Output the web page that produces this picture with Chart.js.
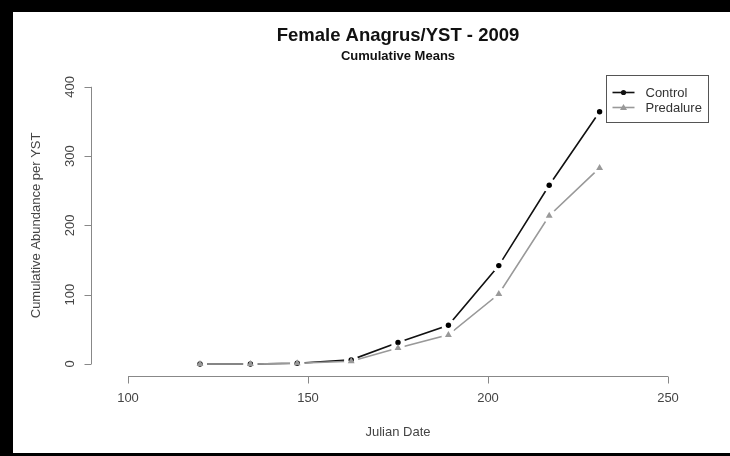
<!DOCTYPE html>
<html>
<head>
<meta charset="utf-8">
<title>Female Anagrus/YST - 2009</title>
<script src="https://cdn.jsdelivr.net/npm/chart.js@4.4.1/dist/chart.umd.min.js"></script>
<style>
  html, body { margin: 0; padding: 0; background: #fff; }
  #frame {
    width: 730px; height: 456px; box-sizing: border-box;
    border-left: 13px solid #000; border-top: 12px solid #000; border-bottom: 3px solid #000;
    background: #fff;
  }
  canvas { display: block; }
</style>
</head>
<body>
<div id="frame"><canvas id="chart" width="717" height="441"></canvas></div>
<script>
(function () {
  'use strict';

  // Data
  var julianDays = [120, 134, 147, 162, 175, 189, 203, 217, 231];
  var controlMeans = [0, 0, 1, 6, 31, 56, 142, 258, 364];
  var predalureMeans = [0, 0, 1, 4, 23, 42, 101, 214, 283];
  var xTicks = [100, 150, 200, 250];
  var yTicks = [0, 100, 200, 300, 400];

  var FONT = '"Liberation Sans", Arial, Helvetica, sans-serif';
  var TEXT = '#444';
  var AXIS = '#888';

  function pts(vals) {
    return julianDays.map(function (d, i) { return { x: d, y: vals[i] }; });
  }

  /** R-style detached axes: drawn off the plot region through the scales */
  var rAxes = {
    id: 'rAxes',
    afterDraw: function (chart) {
      var ctx = chart.ctx, area = chart.chartArea;
      var xs = chart.scales.x, ys = chart.scales.y;
      var ay = Math.round(area.bottom + 12) + 0.5;
      var ax = Math.round(area.left - 37) + 0.5;
      ctx.save();
      ctx.strokeStyle = AXIS;
      ctx.lineWidth = 1;
      ctx.beginPath();
      ctx.moveTo(xs.getPixelForValue(xTicks[0]), ay);
      ctx.lineTo(xs.getPixelForValue(xTicks[xTicks.length - 1]), ay);
      xTicks.forEach(function (v) {
        var px = Math.round(xs.getPixelForValue(v)) + 0.5;
        ctx.moveTo(px, ay);
        ctx.lineTo(px, ay + 7);
      });
      ctx.moveTo(ax, ys.getPixelForValue(yTicks[0]));
      ctx.lineTo(ax, ys.getPixelForValue(yTicks[yTicks.length - 1]));
      yTicks.forEach(function (v) {
        var py = Math.round(ys.getPixelForValue(v)) + 0.5;
        ctx.moveTo(ax, py);
        ctx.lineTo(ax - 7, py);
      });
      ctx.stroke();
      ctx.restore();
    }
  };

  /** Boxed legend in the top-right corner, like R's legend() */
  var boxLegend = {
    id: 'boxLegend',
    afterDraw: function (chart) {
      var ctx = chart.ctx, area = chart.chartArea;
      var left = Math.round(area.right - 62) + 0.5;
      var top = Math.round(area.top - 12) + 0.5;
      var items = chart.data.datasets.filter(function (ds) { return ds.legendMarker; });
      ctx.save();
      ctx.strokeStyle = '#555';
      ctx.lineWidth = 1;
      ctx.strokeRect(left, top, 102, 47);
      items.forEach(function (ds, i) {
        var y = top + 17 + i * 15;
        ctx.strokeStyle = ds.borderColor;
        ctx.lineWidth = 1.6;
        ctx.beginPath();
        ctx.moveTo(left + 6, y);
        ctx.lineTo(left + 28, y);
        ctx.stroke();
        ctx.fillStyle = ds.borderColor;
        ctx.beginPath();
        if (ds.legendMarker === 'triangle') {
          ctx.moveTo(left + 17, y - 3.5);
          ctx.lineTo(left + 20.5, y + 2.5);
          ctx.lineTo(left + 13.5, y + 2.5);
          ctx.closePath();
        } else {
          ctx.arc(left + 17, y, 2.6, 0, Math.PI * 2);
        }
        ctx.fill();
        ctx.fillStyle = '#333';
        ctx.font = '13px ' + FONT;
        ctx.textBaseline = 'middle';
        ctx.fillText(ds.label, left + 39, y + 1);
      });
      ctx.restore();
    }
  };

  var lineBase = { showLine: true, pointRadius: 0, borderWidth: 1.6, clip: false };
  var markBase = { showLine: false, pointBorderWidth: 0, clip: false };

  new Chart(document.getElementById('chart'), {
    type: 'scatter',
    data: {
      datasets: [
        Object.assign({}, lineBase, { label: 'Control', data: pts(controlMeans), borderColor: '#111', order: 5, legendMarker: 'circle' }),
        Object.assign({}, lineBase, { label: 'Predalure', data: pts(predalureMeans), borderColor: '#999', order: 4, legendMarker: 'triangle' }),
        // white masks give the gaps of type = "b"
        Object.assign({}, markBase, { data: pts(controlMeans), pointRadius: 7, pointBackgroundColor: '#fff', order: 3 }),
        Object.assign({}, markBase, { data: pts(predalureMeans), pointRadius: 7, pointBackgroundColor: '#fff', order: 2 }),
        Object.assign({}, markBase, { data: pts(controlMeans), pointRadius: 2.7, pointStyle: 'circle', pointBackgroundColor: '#000', order: 1 }),
        Object.assign({}, markBase, { data: pts(predalureMeans), pointRadius: 4, pointStyle: 'triangle', pointBackgroundColor: '#999', order: 0 })
      ]
    },
    options: {
      responsive: false,
      animation: false,
      events: [],
      layout: { padding: { top: 0, right: 62, bottom: 0, left: 0 } },
      plugins: {
        legend: { display: false },
        tooltip: { enabled: false },
        title: {
          display: true, fullSize: false,
          text: 'Female Anagrus/YST - 2009',
          color: '#111',
          font: { family: FONT, size: 18.5, weight: 'bold' },
          padding: { top: 13, bottom: 0 }
        },
        subtitle: {
          display: true, fullSize: false,
          text: 'Cumulative Means',
          color: '#111',
          font: { family: FONT, size: 13, weight: 'bold' },
          padding: { top: 1, bottom: 23 }
        }
      },
      scales: {
        x: {
          type: 'linear', min: 100, max: 250,
          afterBuildTicks: function (s) { s.ticks = xTicks.map(function (v) { return { value: v }; }); },
          afterFit: function (s) { s.height = 89; },
          grid: { display: false, drawTicks: false },
          border: { display: false },
          ticks: { color: TEXT, font: { family: FONT, size: 13 }, padding: 27, maxRotation: 0 },
          title: { display: true, text: 'Julian Date', color: TEXT, font: { family: FONT, size: 13 }, padding: { top: 0, bottom: 13 } }
        },
        y: {
          type: 'linear', min: 0, max: 400,
          afterBuildTicks: function (s) { s.ticks = yTicks.map(function (v) { return { value: v }; }); },
          afterFit: function (s) { s.width = 115; },
          grid: { display: false, drawTicks: false },
          border: { display: false },
          ticks: { color: TEXT, font: { family: FONT, size: 13 }, minRotation: 90, maxRotation: 90, crossAlign: 'center', padding: 47 },
          title: { display: true, text: 'Cumulative Abundance per YST', color: TEXT, font: { family: FONT, size: 13 }, padding: { top: 16, bottom: 0 } }
        }
      }
    },
    plugins: [rAxes, boxLegend]
  });
})();
</script>
</body>
</html>
